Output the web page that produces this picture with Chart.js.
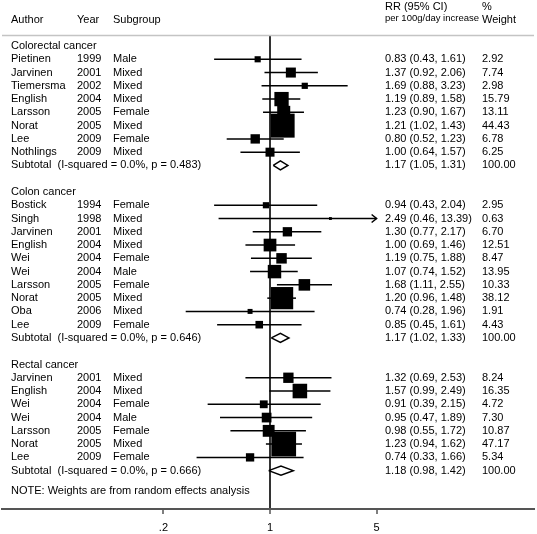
<!DOCTYPE html>
<html lang="en">
<head>
<meta charset="UTF-8">
<title>RR per 100g/day increase - forest plot</title>
<script src="https://cdn.jsdelivr.net/npm/chart.js"></script>
<style>body{margin:0;background:#fff}</style>
</head>
<body>
<canvas id="forest" width="537" height="534"></canvas>
<script>
// subgroup blocks
const groupNames = ['Colorectal cancer', 'Colon cancer', 'Rectal cancer'];
const groupSizes = [8, 10, 7];
const subRR = [1.17, 1.17, 1.18];
const subLo = [1.05, 1.02, 0.98];
const subHi = [1.31, 1.33, 1.42];
const subI2 = ['0.0%', '0.0%', '0.0%'];
const subP = ['0.483', '0.646', '0.666'];

// studies, in plotting order
const authors = ['Pietinen', 'Jarvinen', 'Tiemersma', 'English', 'Larsson', 'Norat', 'Lee', 'Nothlings',
  'Bostick', 'Singh', 'Jarvinen', 'English', 'Wei', 'Wei', 'Larsson', 'Norat', 'Oba', 'Lee',
  'Jarvinen', 'English', 'Wei', 'Wei', 'Larsson', 'Norat', 'Lee'];
const years = [1999, 2001, 2002, 2004, 2005, 2005, 2009, 2009,
  1994, 1998, 2001, 2004, 2004, 2004, 2005, 2005, 2006, 2009,
  2001, 2004, 2004, 2004, 2005, 2005, 2009];
const subgroups = ['Male', 'Mixed', 'Mixed', 'Mixed', 'Female', 'Mixed', 'Female', 'Mixed',
  'Female', 'Mixed', 'Mixed', 'Mixed', 'Female', 'Male', 'Female', 'Mixed', 'Mixed', 'Female',
  'Mixed', 'Mixed', 'Female', 'Male', 'Female', 'Mixed', 'Female'];
const rr = [0.83, 1.37, 1.69, 1.19, 1.23, 1.21, 0.80, 1.00,
  0.94, 2.49, 1.30, 1.00, 1.19, 1.07, 1.68, 1.20, 0.74, 0.85,
  1.32, 1.57, 0.91, 0.95, 0.98, 1.23, 0.74];
const lo = [0.43, 0.92, 0.88, 0.89, 0.90, 1.02, 0.52, 0.64,
  0.43, 0.46, 0.77, 0.69, 0.75, 0.74, 1.11, 0.96, 0.28, 0.45,
  0.69, 0.99, 0.39, 0.47, 0.55, 0.94, 0.33];
const hi = [1.61, 2.06, 3.23, 1.58, 1.67, 1.43, 1.23, 1.57,
  2.04, 13.39, 2.17, 1.46, 1.88, 1.52, 2.55, 1.48, 1.96, 1.61,
  2.53, 2.49, 2.15, 1.89, 1.72, 1.62, 1.66];
const weights = [2.92, 7.74, 2.98, 15.79, 13.11, 44.43, 6.78, 6.25,
  2.95, 0.63, 6.70, 12.51, 8.47, 13.95, 10.33, 38.12, 1.91, 4.43,
  8.24, 16.35, 4.72, 7.30, 10.87, 47.17, 5.34];

const tickValues = [0.2, 1, 5];
const tickLabels = ['.2', '1', '5'];

const FONT = '"Liberation Sans", Arial, sans-serif';

// row layout: header, studies, subtotal, blank
const studyRows = [];
const headerRows = [];
const subtotalRows = [];
let row = 0;
groupSizes.forEach((n) => {
  headerRows.push(row);
  row++;
  for (let i = 0; i < n; i++) { studyRows.push(row); row++; }
  subtotalRows.push(row);
  row += 2;
});
const noteRow = subtotalRows[subtotalRows.length - 1] + 1.5;

const xMin = tickValues[0];
const xMax = tickValues[tickValues.length - 1];

const datasets = [];
// boxes (area ~ weight)
datasets.push({
  type: 'scatter',
  data: rr.map((v, i) => ({ x: v, y: studyRows[i] })),
  pointStyle: 'rect',
  pointRadius: weights.map(w => 3.6 * Math.sqrt(w) / (2 * Math.SQRT1_2)),
  backgroundColor: '#000',
  borderWidth: 0
});
// confidence intervals
rr.forEach((v, i) => {
  datasets.push({
    type: 'scatter',
    showLine: true,
    data: [{ x: Math.max(lo[i], xMin), y: studyRows[i] }, { x: Math.min(hi[i], xMax), y: studyRows[i] }],
    borderColor: '#000',
    borderWidth: 1.5,
    pointRadius: 0
  });
});
// subtotal diamonds
subRR.forEach((v, g) => {
  const r = subtotalRows[g];
  const h = 0.34;
  datasets.push({
    type: 'scatter',
    showLine: true,
    data: [{ x: subLo[g], y: r }, { x: v, y: r - h }, { x: subHi[g], y: r }, { x: v, y: r + h }, { x: subLo[g], y: r }],
    borderColor: '#000',
    borderWidth: 1.5,
    pointRadius: 0
  });
});

const tablePlugin = {
  id: 'table',
  beforeDatasetsDraw(chart) {
    const c = chart.ctx, a = chart.chartArea;
    c.save();
    c.strokeStyle = '#c4c4c4';
    c.lineWidth = 1.5;
    c.beginPath();
    c.moveTo(a.left, a.top + 0.5);
    c.lineTo(a.right, a.top + 0.5);
    c.stroke();
    c.restore();
  },
  afterDraw(chart) {
    const c = chart.ctx;
    const ys = chart.scales.y, xs = chart.scales.x;
    c.save();
    c.fillStyle = '#000';
    c.textBaseline = 'middle';
    c.textAlign = 'left';
    c.font = '11px ' + FONT;
    // column heads
    c.fillText('Author', 11, 20);
    c.fillText('Year', 77, 20);
    c.fillText('Subgroup', 113, 20);
    c.fillText('RR (95% CI)', 385, 7);
    c.fillText('%', 482, 7);
    c.fillText('Weight', 482, 20);
    c.font = '9.5px ' + FONT;
    c.fillText('per 100g/day increase', 385, 18.5);
    c.font = '11px ' + FONT;
    const ci = (v, l, h) => v.toFixed(2) + ' (' + l.toFixed(2) + ', ' + h.toFixed(2) + ')';
    groupNames.forEach((name, g) => {
      c.fillText(name, 11, ys.getPixelForValue(headerRows[g]));
      const y = ys.getPixelForValue(subtotalRows[g]);
      c.fillText('Subtotal  (I-squared = ' + subI2[g] + ', p = ' + subP[g] + ')', 11, y);
      c.fillText(ci(subRR[g], subLo[g], subHi[g]), 385, y);
      c.fillText('100.00', 482, y);
    });
    authors.forEach((au, i) => {
      const y = ys.getPixelForValue(studyRows[i]);
      c.fillText(au, 11, y);
      c.fillText(String(years[i]), 77, y);
      c.fillText(subgroups[i], 113, y);
      c.fillText(ci(rr[i], lo[i], hi[i]), 385, y);
      c.fillText(weights[i].toFixed(2), 482, y);
    });
    c.fillText('NOTE: Weights are from random effects analysis', 11, ys.getPixelForValue(noteRow));
    // arrowheads for clipped intervals
    c.strokeStyle = '#000';
    c.lineWidth = 1.5;
    hi.forEach((h, i) => {
      if (h <= xMax) return;
      const px = xs.getPixelForValue(xMax), py = ys.getPixelForValue(studyRows[i]);
      c.beginPath();
      c.moveTo(px - 5, py - 4);
      c.lineTo(px, py);
      c.lineTo(px - 5, py + 4);
      c.stroke();
    });
    c.restore();
  }
};

new Chart(document.getElementById('forest'), {
  data: { datasets: datasets },
  options: {
    responsive: false,
    animation: false,
    layout: { autoPadding: false, padding: { left: 2, right: 3, top: 35, bottom: 0 } },
    plugins: { legend: { display: false }, tooltip: { enabled: false } },
    scales: {
      x: {
        type: 'logarithmic',
        bounds: 'data',
        min: 0.01748,
        max: 53.84,
        afterBuildTicks(scale) { scale.ticks = tickValues.map(v => ({ value: v })); },
        afterFit(scale) { scale.height = 25; },
        ticks: {
          autoSkip: false,
          maxRotation: 0,
          padding: 7,
          color: '#000',
          font: { family: FONT, size: 11 },
          callback: (v) => tickLabels[tickValues.indexOf(v)]
        },
        grid: {
          drawOnChartArea: true,
          drawTicks: true,
          tickLength: 5,
          color: (ctx) => (ctx.tick && ctx.tick.value === 1 ? '#333' : 'rgba(0,0,0,0)'),
          lineWidth: 2,
          tickColor: '#555',
          tickWidth: 1.5
        },
        border: { display: true, color: '#555', width: 2 }
      },
      y: {
        type: 'linear',
        reverse: true,
        min: -0.83,
        max: 34.89,
        display: false
      }
    }
  },
  plugins: [tablePlugin]
});
</script>
</body>
</html>
